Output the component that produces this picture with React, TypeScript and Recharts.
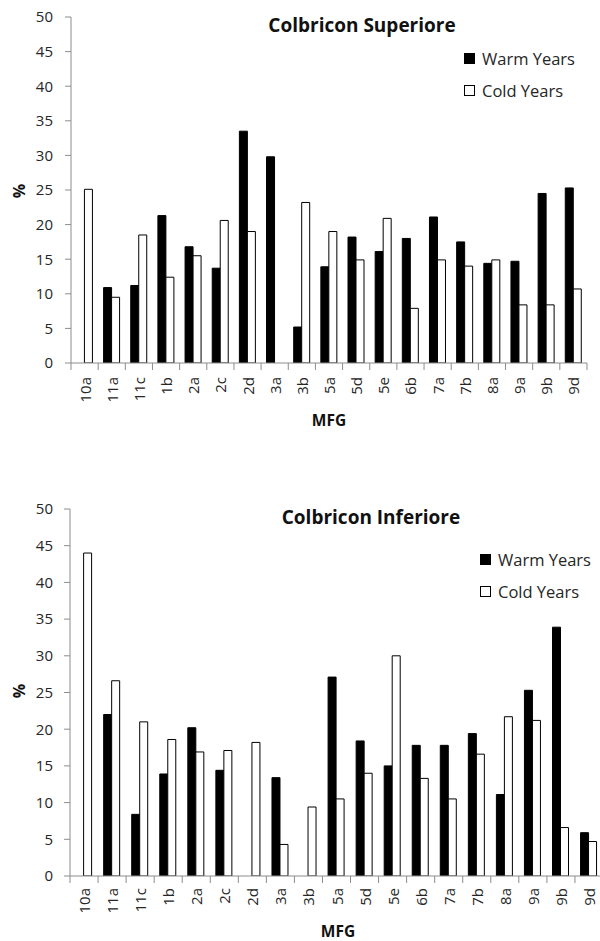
import React from 'react';
import { BarChart, Bar, XAxis, YAxis, Legend } from 'recharts';

const categories = ['10a', '11a', '11c', '1b', '2a', '2c', '2d', '3a', '3b', '5a', '5d', '5e', '6b', '7a', '7b', '8a', '9a', '9b', '9d'];

const superioreWarm = [0, 10.9, 11.2, 21.3, 16.8, 13.7, 33.5, 29.8, 5.2, 13.9, 18.2, 16.1, 18.0, 21.1, 17.5, 14.4, 14.7, 24.5, 25.3];
const superioreCold = [25.1, 9.5, 18.5, 12.4, 15.5, 20.6, 19.0, 0, 23.2, 19.0, 14.9, 20.9, 7.9, 14.9, 14.0, 14.9, 8.4, 8.4, 10.7];

const inferioreWarm = [0, 22.0, 8.4, 13.9, 20.2, 14.4, 0, 13.4, 0, 27.1, 18.4, 15.0, 17.8, 17.8, 19.4, 11.1, 25.3, 33.9, 5.9];
const inferioreCold = [44.0, 26.6, 21.0, 18.6, 16.9, 17.1, 18.2, 4.3, 9.4, 10.5, 14.0, 30.0, 13.3, 10.5, 16.6, 21.7, 21.2, 6.6, 4.7];

const yTicks = [0, 5, 10, 15, 20, 25, 30, 35, 40, 45, 50];

const warmName = 'Warm Years';
const coldName = 'Cold Years';
const legendOrder = [warmName, coldName];

const buildRows = (warm: number[], cold: number[]) =>
  categories.map((c, i) => ({ mfg: c, warm: warm[i], cold: cold[i] }));

const superioreData = buildRows(superioreWarm, superioreCold);
const inferioreData = buildRows(inferioreWarm, inferioreCold);

const AXIS = '#8c8c8c';
const TEXT = '#262626';
const FONT = "'Open Sans', 'Noto Sans', sans-serif";

const makeXTick = (gap: number) => (props: any) => {
  const { x, y, payload } = props;
  const idx = props.index ?? payload.index ?? 0;
  const off = payload.offset ?? 0;
  const y0 = y - gap;
  return (
    <g>
      <line x1={x - off} x2={x - off} y1={y0} y2={y0 + 7} stroke={AXIS} strokeWidth={1} />
      {idx === categories.length - 1 && (
        <line x1={x + off} x2={x + off} y1={y0} y2={y0 + 7} stroke={AXIS} strokeWidth={1} />
      )}
      <text
        x={x}
        y={y}
        transform={`rotate(-90 ${x} ${y})`}
        textAnchor="end"
        dominantBaseline="central"
        fontSize={15}
        fill={TEXT}
      >
        {payload.value}
      </text>
    </g>
  );
};

const legendContent = (props: any) => {
  const items = [...(props.payload || [])].sort(
    (a: any, b: any) => legendOrder.indexOf(a.value) - legendOrder.indexOf(b.value)
  );
  return (
    <div style={{ fontFamily: FONT, fontSize: 16.5, color: TEXT }}>
      {items.map((it: any) => (
        <div key={it.value} style={{ display: 'flex', alignItems: 'center', height: 32.5 }}>
          <span
            style={{
              display: 'inline-block',
              width: 9,
              height: 9,
              background: it.color,
              border: '1px solid #000',
              marginRight: 7,
            }}
          />
          <span style={{ whiteSpace: 'nowrap' }}>{it.value}</span>
        </div>
      ))}
    </div>
  );
};

type PanelProps = {
  data: any[];
  title: string;
  width: number;
  height: number;
  margin: any;
  yWidth: number;
  xHeight: number;
  yTickMargin: number;
  xGap: number;
  titleX: number;
  titleY: number;
  pctY: number;
  mfgX: number;
  mfgY: number;
  legendLeft: number;
  legendTop: number;
};

const Panel = (p: PanelProps) => (
  <BarChart
    width={p.width}
    height={p.height}
    data={p.data}
    margin={p.margin}
    barCategoryGap="20%"
    barGap={0}
  >
    <XAxis
      dataKey="mfg"
      interval={0}
      height={p.xHeight}
      tickSize={0}
      tickMargin={p.xGap}
      tickLine={false}
      axisLine={{ stroke: AXIS }}
      tick={makeXTick(p.xGap)}
    />
    <YAxis
      domain={[0, 50]}
      ticks={yTicks}
      width={p.yWidth}
      tickSize={6}
      tickMargin={p.yTickMargin}
      axisLine={{ stroke: AXIS }}
      tickLine={{ stroke: AXIS }}
      tick={{ fontSize: 15, fill: TEXT }}
      allowDataOverflow
    />
    <Legend
      layout="vertical"
      align="center"
      verticalAlign="middle"
      content={legendContent}
      wrapperStyle={{ position: 'absolute', top: p.legendTop, left: p.legendLeft, width: 'auto', height: 'auto' }}
    />
    <Bar dataKey="warm" name={warmName} fill="#000000" stroke="#000000" strokeWidth={1} isAnimationActive={false} />
    <Bar dataKey="cold" name={coldName} fill="#ffffff" stroke="#000000" strokeWidth={1} isAnimationActive={false} />
    <text x={p.titleX} y={p.titleY} textAnchor="middle" dominantBaseline="central" fontWeight="bold" fontSize={19} fill="#111">
      {p.title}
    </text>
    <text
      x={19}
      y={p.pctY}
      transform={`rotate(-90 19 ${p.pctY})`}
      textAnchor="middle"
      dominantBaseline="central"
      fontWeight="bold"
      fontSize={16}
      fill="#111"
    >
      %
    </text>
    <text x={p.mfgX} y={p.mfgY} textAnchor="middle" dominantBaseline="central" fontWeight="bold" fontSize={15.5} fill="#111">
      MFG
    </text>
  </BarChart>
);

export default function App() {
  return (
    <div
      style={{
        position: 'absolute',
        left: 0,
        top: 0,
        width: 600,
        height: 941,
        overflow: 'hidden',
        background: '#fff',
        fontFamily: FONT,
      }}
    >
      <div style={{ position: 'absolute', left: 0, top: 0 }}>
        <Panel
          data={superioreData}
          title="Colbricon Superiore"
          width={600}
          height={440}
          margin={{ top: 17, right: 13, bottom: 0, left: 0 }}
          yWidth={71}
          xHeight={77}
          yTickMargin={12}
          xGap={14}
          titleX={362}
          titleY={25}
          pctY={191}
          mfgX={329}
          mfgY={420}
          legendLeft={464}
          legendTop={42}
        />
      </div>
      <div style={{ position: 'absolute', left: 0, top: 480 }}>
        <Panel
          data={inferioreData}
          title="Colbricon Inferiore"
          width={604}
          height={461}
          margin={{ top: 29, right: 1, bottom: 0, left: 0 }}
          yWidth={70}
          xHeight={65}
          yTickMargin={11}
          xGap={12}
          titleX={371}
          titleY={37}
          pctY={211}
          mfgX={338}
          mfgY={451}
          legendLeft={480}
          legendTop={63}
        />
      </div>
    </div>
  );
}
